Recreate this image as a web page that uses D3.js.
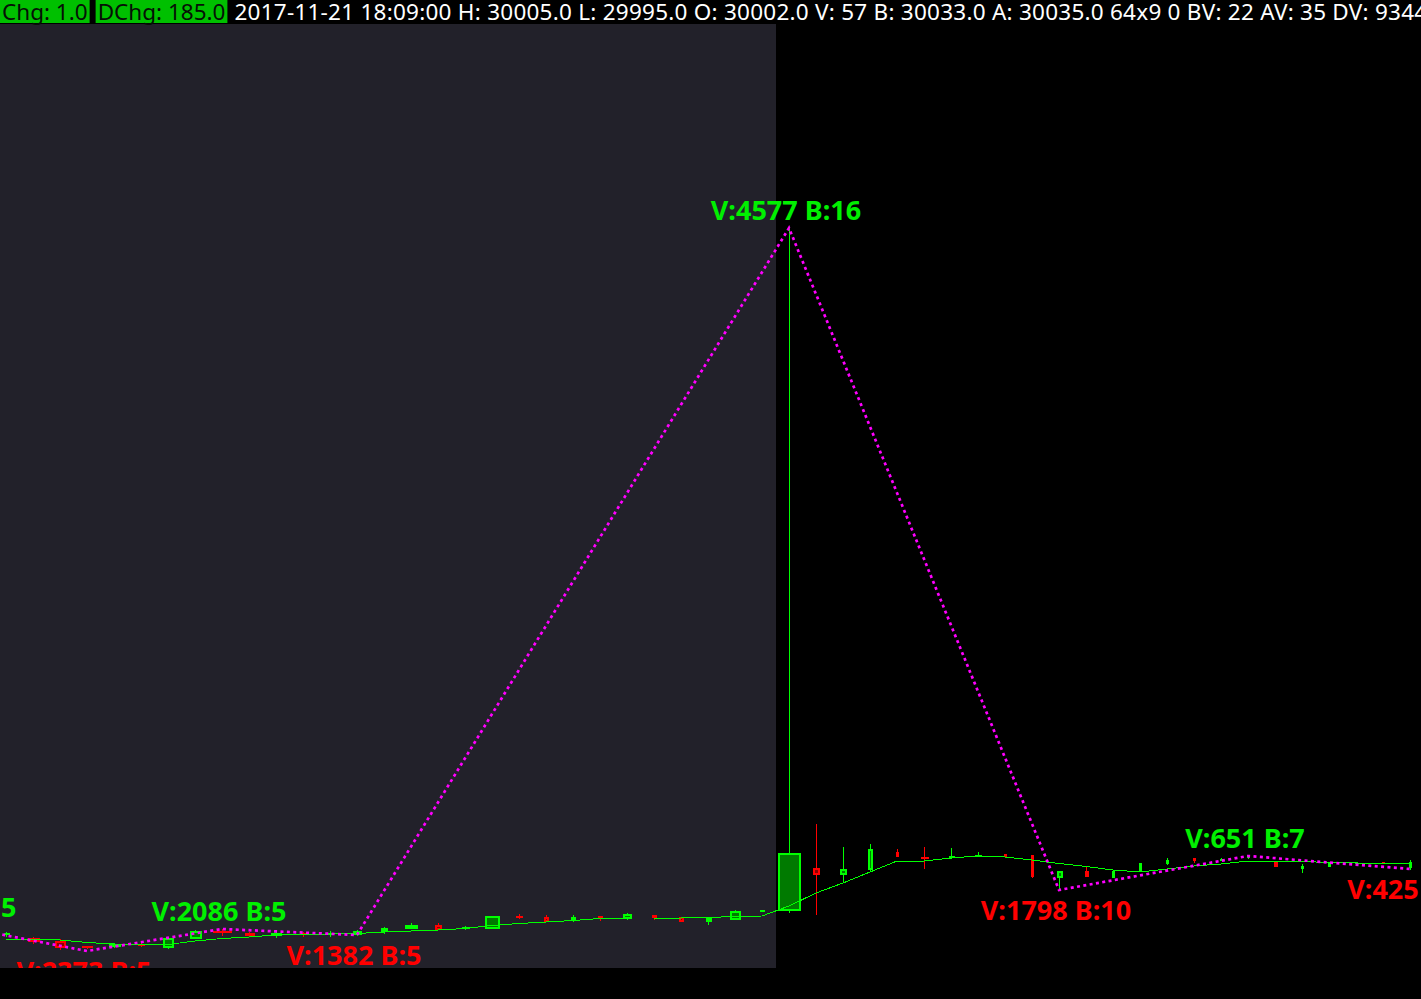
<!DOCTYPE html>
<html><head><meta charset="utf-8">
<script src="https://cdn.jsdelivr.net/npm/d3@7"></script>
<style>html,body{margin:0;padding:0;background:#000;overflow:hidden}</style>
</head><body><svg id="c" width="1421" height="999"></svg>
<script>
// ---- data ----
const headerBoxes = ["Chg: 1.0", "DChg: 185.0"];
const headerText = "2017-11-21 18:09:00 H: 30005.0 L: 29995.0 O: 30002.0 V: 57 B: 30033.0 A: 30035.0 64x9 0 BV: 22 AV: 35 DV: 9344";

const open  = [29930,29927,29924,29918,29918,29921,29917,29926,29934,29932,29929,29932,29930,29930,29933,29936,29940,29936,29936,29948,29948,29944,29949,29946,29950,29948,29943,29945,29953,29954,29997,29990,29995,30013,30007,30006,30008,30011,30010,29987,29994,29987,29993,30001,30007,30004,30006,30004,29996,29998,30001,30002,29997];
const high  = [29933,29928,29926,29919,29922,29923,29928,29935,29936,29933,29933,29933,29934,29935,29938,29942,29942,29939,29949,29951,29950,29950,29949,29952,29950,29948,29947,29955,29954,30637,30041,30018,30021,30016,30018,30017,30013,30011,30010,29994,29999,29995,30002,30007,30007,30007,30009,30004,30001,30003,30002,30002,30005];
const low   = [29928,29921,29915,29916,29917,29918,29916,29926,29929,29928,29927,29928,29928,29929,29931,29936,29935,29935,29936,29946,29943,29943,29944,29945,29945,29943,29940,29945,29953,29952,29950,29982,29993,30008,29996,30006,30008,30008,29987,29975,29988,29987,29993,30000,30002,30004,30006,29998,29992,29998,30001,30001,29995];
const close = [29931,29923,29917,29917,29921,29919,29927,29934,29932,29929,29932,29930,29932,29934,29937,29940,29935,29937,29949,29947,29943,29948,29946,29951,29947,29943,29947,29954,29954,30012,29990,29996,30016,30008,30006,30008,30010,30008,29988,29994,29988,29994,30002,30005,30004,30006,30008,29998,29999,30002,30002,30001,30003];
const volume = [200,400,380,370,410,240,380,420,636,350,360,170,180,322,240,440,235,270,510,230,170,165,175,300,170,168,200,370,160,774,230,235,160,95,260,200,225,90,100,203,150,90,95,85,80,75,76,120,70,68,55,55,57];
const ma = [29925,29926,29925,29922.5,29921,29920,29920.5,29924,29926.5,29928,29930,29931,29931,29931.5,29933,29934,29935,29936.5,29939.5,29941.5,29943,29944.5,29946.5,29947,29947,29947,29947.5,29948.5,29949,29959,29972,29982,29993,30004,30004,30007,30009,30008,30005,30001.5,29998.5,29995,29993,29996,29999,30001,30004,30004,30003.5,30002.5,30002,30001,30002];

const zzIndex  = [-2, 3, 8, 13, 29, 39, 46, 52];
const zzPrice  = [29940, 29914, 29936, 29930, 30637, 29975, 30009, 29996];
const zzType   = ["H","L","H","L","H","L","H","L"];
const zzVolume = [2119, 2373, 2086, 1382, 4577, 1798, 651, 425];
const zzBars   = [5, 5, 5, 5, 16, 10, 7, 6];
const sessionStart = 29;

// ---- layout ----
const W = 1421, H = 999, plotTop = 24, plotBottom = 968;
const svg = d3.select("#c");
const x = d3.scaleLinear().domain([0, 52]).range([6, 1410]);
const y = d3.scaleLinear().domain([29897, 30841]).range([plotBottom, plotTop]);
const widthScale = v => Math.max(3, v / 34);

svg.append("rect").attr("width", W).attr("height", H).attr("fill", "#000");
const sx = Math.round((x(sessionStart - 1) + x(sessionStart)) / 2);
svg.append("rect").attr("x", 0).attr("y", plotTop).attr("width", sx).attr("height", plotBottom - plotTop).attr("fill", "#22212a");

svg.append("defs").append("clipPath").attr("id", "plot")
  .append("rect").attr("x", 0).attr("y", plotTop).attr("width", W).attr("height", plotBottom - plotTop);
const g = svg.append("g").attr("clip-path", "url(#plot)");

// candles
const bars = open.map((o, i) => ({i, o, h: high[i], l: low[i], c: close[i], v: volume[i]}));
const cg = g.append("g").attr("shape-rendering", "crispEdges");
bars.forEach(d => {
  const up = d.c >= d.o;
  const col = up ? "#00ff00" : "#ff0000";
  const fillc = up ? "#007a00" : "#8a0000";
  const cx = Math.round(x(d.i));
  cg.append("line").attr("x1", cx + 0.5).attr("x2", cx + 0.5)
    .attr("y1", y(d.h)).attr("y2", y(d.l)).attr("stroke", col).attr("stroke-width", 1);
  const w = Math.round(widthScale(d.v));
  const yt = y(Math.max(d.o, d.c)), yb = y(Math.min(d.o, d.c));
  const hgt = yb - yt;
  if (hgt < 3 || w < 4) {
    cg.append("rect").attr("x", cx + 0.5 - w / 2).attr("y", yt - (hgt < 2 ? 1 : 0))
      .attr("width", w).attr("height", Math.max(2, hgt)).attr("fill", col);
  } else {
    cg.append("rect").attr("x", cx + 0.5 - w / 2 + 1).attr("y", yt + 1)
      .attr("width", w - 2).attr("height", hgt - 2)
      .attr("fill", fillc).attr("stroke", col).attr("stroke-width", 2);
  }
});

// moving average
g.append("path").datum(ma)
  .attr("d", d3.line().x((d, i) => x(i)).y(d => y(d)))
  .attr("fill", "none").attr("stroke", "#00ff00").attr("stroke-width", 1)
  .attr("shape-rendering", "crispEdges");

// zigzag
const zz = zzIndex.map((idx, k) => ({idx, p: zzPrice[k], t: zzType[k], v: zzVolume[k], b: zzBars[k]}));
g.append("path").datum(zz)
  .attr("d", d3.line().x(d => x(d.idx)).y(d => y(d.p)))
  .attr("fill", "none").attr("stroke", "#ff00ff").attr("stroke-width", 2.7)
  .attr("stroke-dasharray", "3 3.4");

g.selectAll("text.zz").data(zz).join("text").attr("class", "zz")
  .attr("x", d => x(d.idx) - 3)
  .attr("y", d => d.t === "H" ? y(d.p) - 8 : y(d.p) + 30)
  .attr("text-anchor", "middle")
  .attr("font-family", "'Noto Sans', sans-serif").attr("font-weight", "bold").attr("font-size", 27)
  .attr("fill", d => d.t === "H" ? "#00f000" : "#ff0000")
  .text(d => `V:${d.v} B:${d.b}`);

// header
svg.append("rect").attr("x", 0).attr("y", 0).attr("width", W).attr("height", plotTop).attr("fill", "#000");
const hf = {family: "'Noto Sans', sans-serif", size: 22.5};
let cur = 0;
headerBoxes.forEach(t => {
  const bg = svg.append("rect").attr("y", 0).attr("height", 23).attr("fill", "#00c000");
  const tx = svg.append("text").attr("x", cur + 2).attr("y", 19.5)
    .attr("font-family", hf.family).attr("font-size", hf.size).attr("fill", "#061006").text(t);
  const tw = tx.node().getComputedTextLength();
  bg.attr("x", cur).attr("width", tw + 4);
  cur += tw + 4 + 6;
});
svg.append("text").attr("x", cur + 1).attr("y", 19.5)
  .attr("font-family", hf.family).attr("font-size", hf.size).attr("letter-spacing", 0.25)
  .attr("fill", "#ffffff").text(headerText);
</script>
</body></html>
